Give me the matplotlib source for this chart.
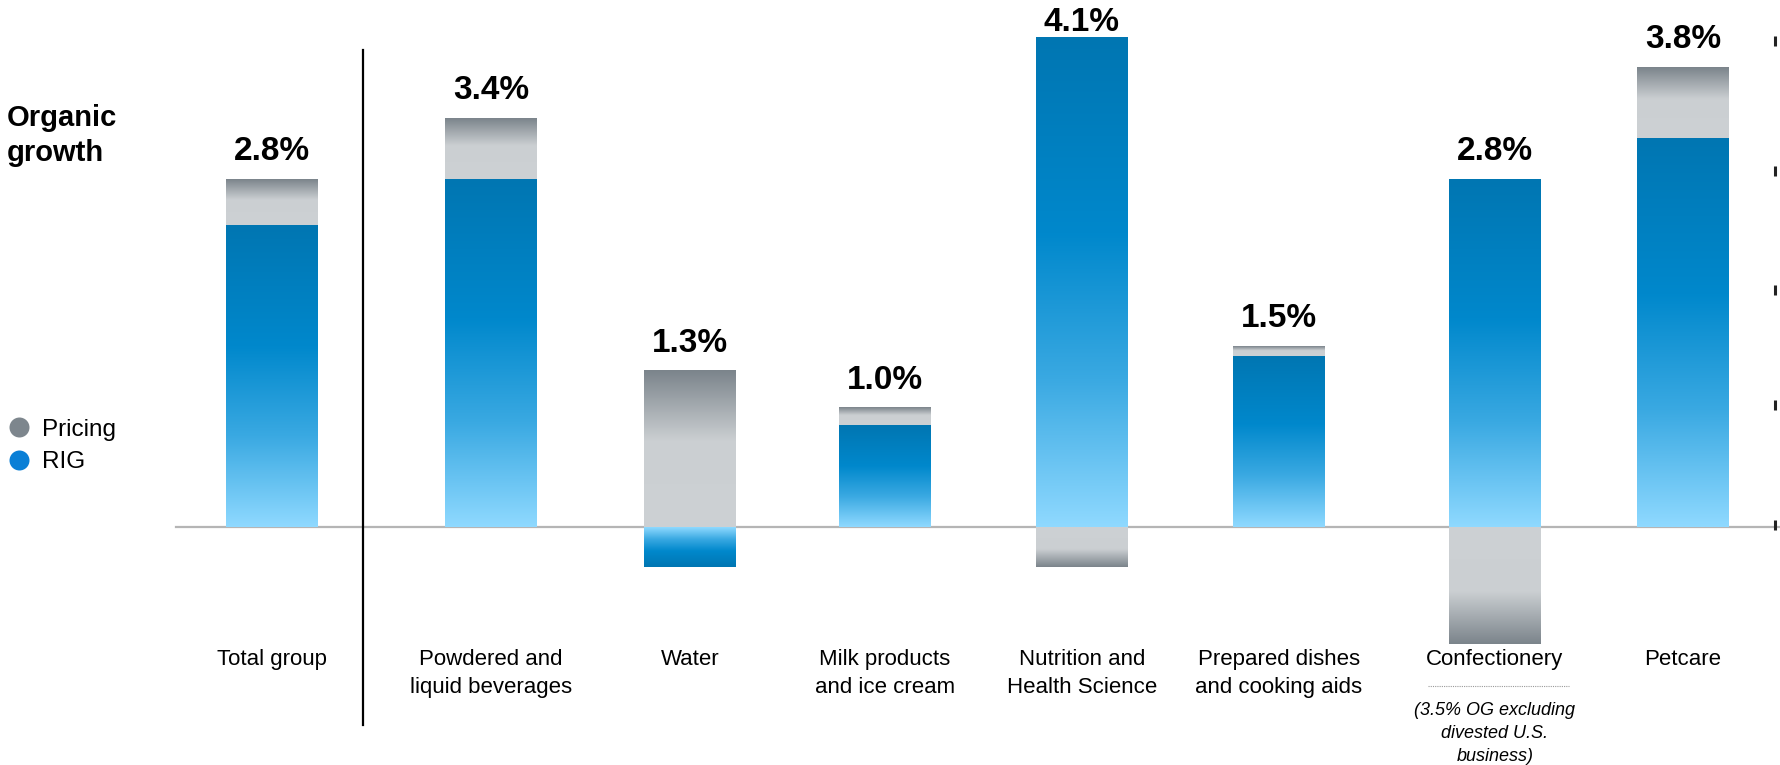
import numpy as np
import matplotlib
matplotlib.use("Agg")
import matplotlib.pyplot as plt
from matplotlib.colors import LinearSegmentedColormap
from matplotlib.lines import Line2D

plt.rcParams["font.family"] = ["Liberation Sans", "DejaVu Sans"]

# data (percent)
categories = ["Total group", "Powdered and\nliquid beverages", "Water",
              "Milk products\nand ice cream", "Nutrition and\nHealth Science",
              "Prepared dishes\nand cooking aids", "Confectionery", "Petcare"]
rig = [2.43, 2.80, -0.32, 0.82, 3.94, 1.38, 2.80, 3.13]
pricing = [0.37, 0.49, 1.26, 0.14, -0.32, 0.08, -0.94, 0.57]
og_labels = ["2.8%", "3.4%", "1.3%", "1.0%", "4.1%", "1.5%", "2.8%", "3.8%"]
note = "(3.5% OG excluding\ndivested U.S.\nbusiness)"
note_idx = 6

# layout, in output pixels
W, H, DPI = 1781, 765, 100
xpos = [272, 491, 690, 885, 1082, 1279, 1495, 1683]
bar_w = 92
base_px = 527          # zero line, from top
px_per_pct = 124.2

blue = LinearSegmentedColormap.from_list(
    "blue", [(0, "#0076b2"), (0.4, "#0088cc"), (0.7, "#3aa9e2"), (1, "#8fd9ff")])
gray = LinearSegmentedColormap.from_list(
    "gray", [(0, "#7b848b"), (0.45, "#cbcfd2"), (1, "#cdd1d4")])


def to_y(px_from_top):
    return (base_px - px_from_top) / px_per_pct


fig = plt.figure(figsize=(W / DPI, H / DPI), dpi=DPI)
ax = fig.add_axes([0, 0, 1, 1])


def grad_bar(x, y0, y1, cmap):
    # y0 = side touching zero, y1 = far end (darkest)
    g = np.linspace(0, 1, 256).reshape(-1, 1)
    img = g if y1 > y0 else g[::-1]
    ax.imshow(img, cmap=cmap, vmin=0, vmax=1, aspect="auto", origin="upper",
              extent=[x - bar_w / 2, x + bar_w / 2, min(y0, y1), max(y0, y1)],
              interpolation="bilinear", zorder=2)


label_max = to_y(31)   # keep the tallest label inside the figure
for i, x in enumerate(xpos):
    pos, neg = 0.0, 0.0
    for val, cmap in ((rig[i], blue), (pricing[i], gray)):
        if val >= 0:
            grad_bar(x, pos, pos + val, cmap)
            pos += val
        else:
            grad_bar(x, neg, neg + val, cmap)
            neg += val
    ax.text(x, min(pos + 19 / px_per_pct, label_max), og_labels[i],
            ha="center", va="baseline", fontsize=24, fontweight="bold")
    ax.text(x, to_y(649), categories[i], ha="center", va="top",
            fontsize=16, linespacing=1.45)

# confectionery footnote
xc = xpos[note_idx]
ax.plot([xc - 67, xc + 74], [to_y(686)] * 2, ls=(0, (1, 1)), color="#9a9a9a", lw=0.8)
ax.text(xc, to_y(702), note, ha="center", va="top", fontsize=13,
        style="italic", linespacing=1.45)

ax.axhline(0, xmin=176 / W, xmax=1, color="#b5b5b5", lw=1.6, zorder=1)
ax.axvline(363, ymin=1 - 725 / H, ymax=1 - 50 / H, color="black", lw=1.6)

# cut-off axis marks on the right edge
edge_ticks = [0.02, 0.98, 1.91, 2.87, 3.91]
ax.scatter([1775] * len(edge_ticks), edge_ticks, marker="|", s=60,
           color="#222222", linewidths=2.2, clip_on=False)

ax.text(7, to_y(104), "Organic\ngrowth", ha="left", va="top",
        fontsize=21, fontweight="bold", linespacing=1.3)

handles = [Line2D([], [], marker="o", ls="none", markersize=14.4,
                  markerfacecolor=c, markeredgecolor="none")
           for c in ("#7d868d", "#0a7fd6")]
ax.legend(handles, ["Pricing", "RIG"], loc="center left",
          bbox_to_anchor=(0.0058, 1 - 446 / H), frameon=False,
          handlelength=0.7, handletextpad=0.6, labelspacing=0.42,
          borderpad=0, borderaxespad=0, fontsize=17.5)

ax.set_xlim(0, W)
ax.set_ylim(to_y(H), to_y(0))
ax.axis("off")

fig.savefig("out.png", dpi=DPI)
